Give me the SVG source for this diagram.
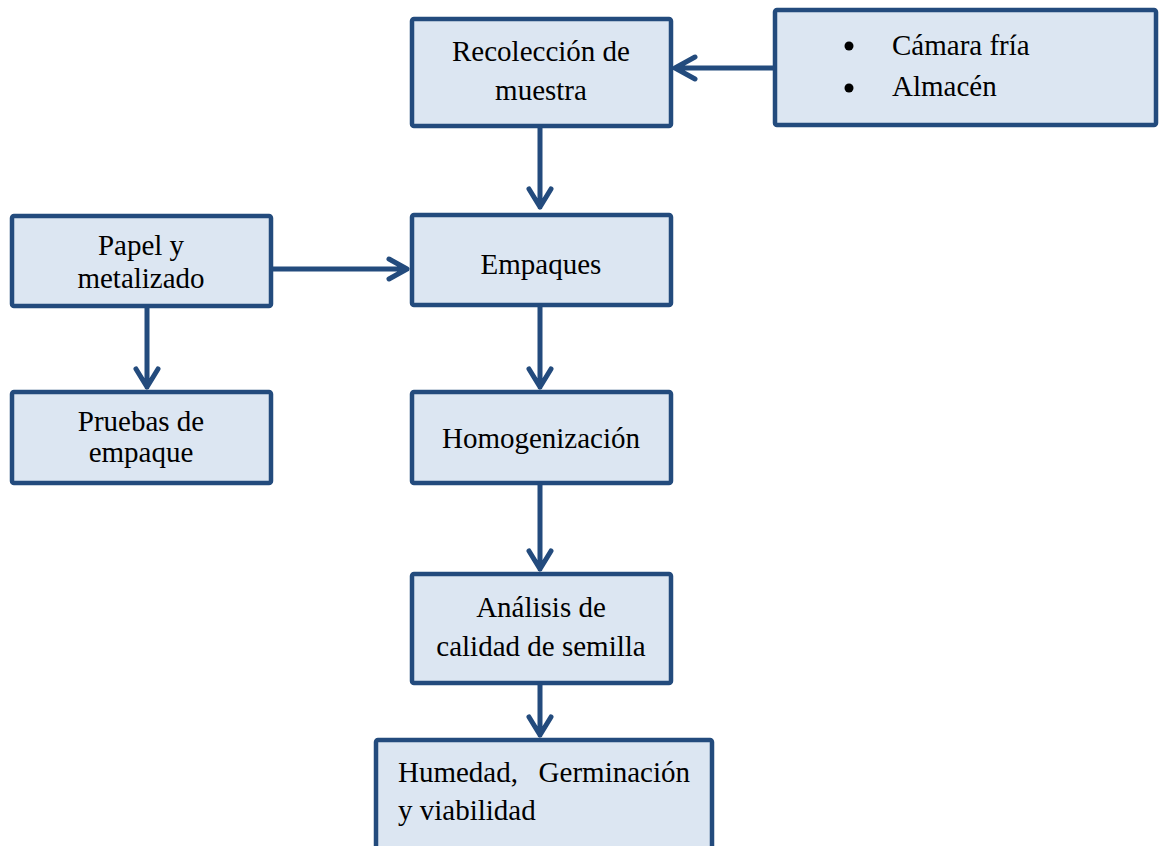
<svg xmlns="http://www.w3.org/2000/svg" width="1160" height="846" viewBox="0 0 1160 846">
<style>
.box{fill:#dce6f2;stroke:#234b7d;stroke-width:4.5}
.t{font-family:"Liberation Serif","Times New Roman",serif;font-size:29px;fill:#000;text-anchor:middle}
.l{font-family:"Liberation Serif","Times New Roman",serif;font-size:29px;fill:#000}
.c{fill:none;stroke:#234b7d;stroke-width:5;stroke-linecap:round;stroke-linejoin:round}
</style>
<rect width="1160" height="846" fill="#fff"/>
<g id="recoleccion">
<rect class="box" x="412" y="19" width="259" height="107" rx="2"/>
<text class="t" x="541" y="61">Recolección de</text>
<text class="t" x="541" y="100">muestra</text>
</g>
<g id="camara">
<rect class="box" x="775" y="10" width="381" height="115" rx="2"/>
<circle cx="849" cy="46" r="4.5" fill="#000"/>
<circle cx="849" cy="88" r="4.5" fill="#000"/>
<text class="l" x="892" y="55">Cámara fría</text>
<text class="l" x="892" y="96">Almacén</text>
</g>
<g id="papel">
<rect class="box" x="12" y="216" width="259" height="90" rx="2"/>
<text class="t" x="141" y="255">Papel y</text>
<text class="t" x="141" y="288">metalizado</text>
</g>
<g id="empaques">
<rect class="box" x="412" y="215" width="259" height="90" rx="2"/>
<text class="t" x="541" y="274">Empaques</text>
</g>
<g id="pruebas">
<rect class="box" x="12" y="392" width="259" height="91" rx="2"/>
<text class="t" x="141" y="431">Pruebas de</text>
<text class="t" x="141" y="462">empaque</text>
</g>
<g id="homogenizacion">
<rect class="box" x="412" y="392" width="259" height="91" rx="2"/>
<text class="t" x="541" y="448">Homogenización</text>
</g>
<g id="analisis">
<rect class="box" x="412" y="574" width="259" height="109" rx="2"/>
<text class="t" x="541" y="617">Análisis de</text>
<text class="t" x="541" y="656">calidad de semilla</text>
</g>
<g id="humedad">
<rect class="box" x="376" y="740" width="336" height="120" rx="2"/>
<text class="l" x="398" y="782">Humedad,</text>
<text class="l" x="690" y="782" text-anchor="end">Germinación</text>
<text class="l" x="398" y="820">y viabilidad</text>
</g>
<g id="connectors">
<path class="c" d="M773 68H675M695 57L675 68L695 79"/>
<path class="c" d="M540 128V207M529 189L540 207L551 189"/>
<path class="c" d="M273 269H407M389 259L407 269L389 279"/>
<path class="c" d="M147 308V387M136 369L147 387L158 369"/>
<path class="c" d="M540 307V387M529 369L540 387L551 369"/>
<path class="c" d="M540 485V569M529 551L540 569L551 551"/>
<path class="c" d="M540 685V735M529 717L540 735L551 717"/>
</g>
</svg>
